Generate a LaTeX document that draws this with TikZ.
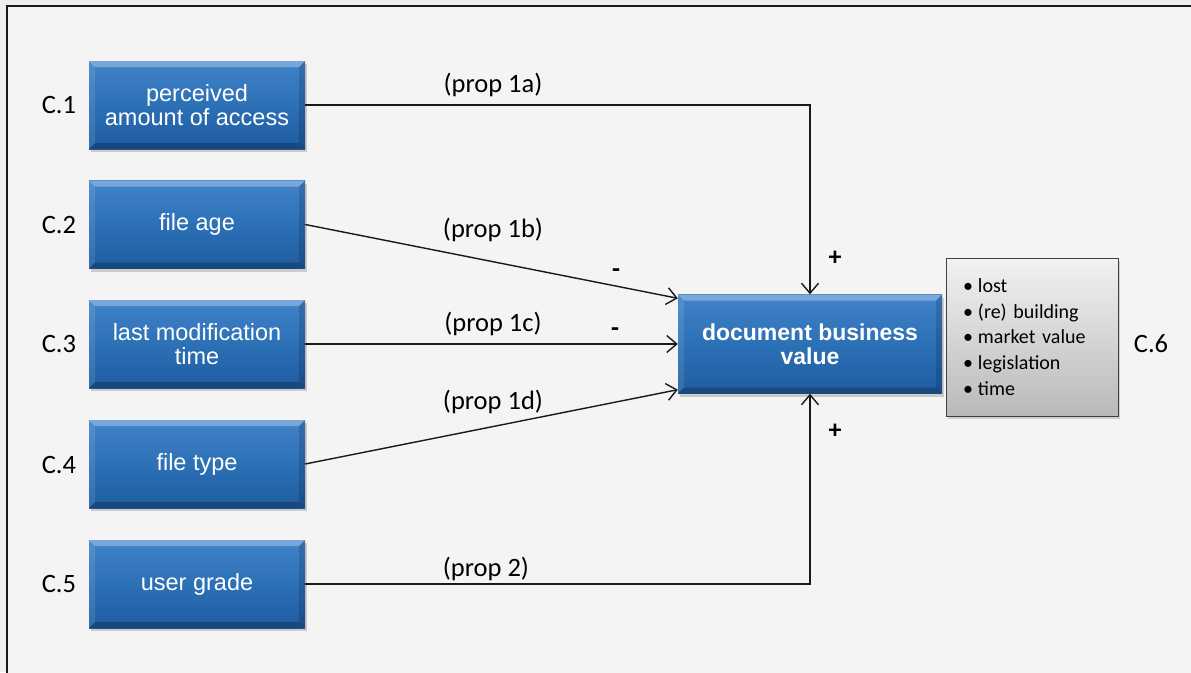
\documentclass[tikz,border=0pt]{standalone}
\usepackage{fontspec}
\setmainfont{Carlito}
\newfontfamily\arialfont{Liberation Sans}
\usetikzlibrary{arrows.meta,shadows}

\definecolor{pagebg}{HTML}{EFEFEF}
\definecolor{framebg}{HTML}{F4F4F4}
\definecolor{blueTop}{HTML}{4183C8}
\definecolor{blueMid}{HTML}{2C70B6}
\definecolor{blueBot}{HTML}{1E5CA0}
\definecolor{grayTop}{HTML}{F2F2F2}
\definecolor{grayBot}{HTML}{B9B9B9}

\tikzset{
  bluebox/.style={
    drop shadow={shadow xshift=2pt,shadow yshift=-3pt,opacity=0.35},
    top color=blueTop, bottom color=blueBot, middle color=blueMid,
    draw=none, inner sep=0pt, align=center, text=white,
    minimum width=216pt, minimum height=88pt,
    font=\arialfont\fontsize{23.5}{24}\selectfont,
    path picture={
      % bevelled rim: light top and left, dark bottom and right
      \fill[white,opacity=0.30]
        (path picture bounding box.north west) -- (path picture bounding box.north east)
        -- ([xshift=-6pt,yshift=-6pt]path picture bounding box.north east)
        -- ([xshift=6pt,yshift=-6pt]path picture bounding box.north west) -- cycle;
      \fill[white,opacity=0.10]
        (path picture bounding box.north west) -- (path picture bounding box.south west)
        -- ([xshift=6pt,yshift=6pt]path picture bounding box.south west)
        -- ([xshift=6pt,yshift=-6pt]path picture bounding box.north west) -- cycle;
      \fill[black,opacity=0.22]
        (path picture bounding box.south west) -- (path picture bounding box.south east)
        -- ([xshift=-6pt,yshift=6pt]path picture bounding box.south east)
        -- ([xshift=6pt,yshift=6pt]path picture bounding box.south west) -- cycle;
      \fill[black,opacity=0.15]
        (path picture bounding box.north east) -- (path picture bounding box.south east)
        -- ([xshift=-6pt,yshift=6pt]path picture bounding box.south east)
        -- ([xshift=-6pt,yshift=-6pt]path picture bounding box.north east) -- cycle;
    }
  },
  listbox/.style={
    drop shadow={shadow xshift=2pt,shadow yshift=-3pt,opacity=0.3},
    top color=grayTop, bottom color=grayBot, draw=black!75, line width=1pt,
    minimum width=172pt, minimum height=158pt, text width=138pt,
    inner sep=0pt, align=left,
    font=\fontsize{20}{25.7}\selectfont
  },
  clabel/.style={font=\fontsize{26.5}{30}\selectfont, inner sep=0pt},
  proplabel/.style={font=\fontsize{26.5}{30}\selectfont, inner sep=0pt},
  signlabel/.style={font=\bfseries\fontsize{26}{30}\selectfont, inner sep=0pt},
  link/.style={line width=1.4pt, draw=black!90},
  arrowlink/.style={link, -{Straight Barb[length=10pt,width=17pt,line width=1.4pt]}}
}

\begin{document}
\begin{tikzpicture}[x=1pt,y=-1pt]
  \useasboundingbox (0,0) rectangle (1191,672);
  \begin{scope}
    \clip (0,0) rectangle (1191,672);
    \fill[pagebg] (0,0) rectangle (1191,672);
    \fill[framebg] (7,6) rectangle (1200,690);
    \draw[line width=2.5pt, black!90] (1200,6) -- (7,6) -- (7,690);
  \end{scope}

  % factor boxes
  \node[bluebox] (c1) at (197,105) {perceived\\amount of access};
  \node[bluebox] (c2) at (197,224.5) {file age};
  \node[bluebox] (c3) at (197,344) {last modification\\time};
  \node[bluebox] (c4) at (197,464) {file type};
  \node[bluebox] (c5) at (197,584) {user grade};

  % central box
  \node[bluebox, minimum width=264pt, minimum height=99pt,
        font=\arialfont\bfseries\fontsize{23}{24}\selectfont] (dbv) at (810,344) {document business\\value};

  % list of value aspects
  \node[listbox] (aspects) at (1032,337) {%
    •\hspace{5pt}lost\\
    •\hspace{5pt}(re) building\\
    •\hspace{5pt}market value\\
    •\hspace{5pt}legislation\\
    •\hspace{5pt}time};

  % construct labels
  \node[clabel] (l1) at (59,105) {C.1};
  \node[clabel] (l2) at (59,225) {C.2};
  \node[clabel] (l3) at (59,344) {C.3};
  \node[clabel] (l4) at (59,465) {C.4};
  \node[clabel] (l5) at (59,584) {C.5};
  \node[clabel] (l6) at (1151,344) {C.6};

  % relations
  \draw[arrowlink] (c1.east) -| (dbv.north);
  \draw[arrowlink] (c2.east) -- ([yshift=-4pt]dbv.north west);
  \draw[arrowlink] (c3.east) -- (dbv.west);
  \draw[arrowlink] (c4.east) -- ([yshift=4pt]dbv.south west);
  \draw[arrowlink] (c5.east) -| (dbv.south);

  % relation labels
  \node[proplabel] (p1a) at (493,85) {(prop 1a)};
  \node[proplabel] (p1b) at (493,230) {(prop 1b)};
  \node[proplabel] (p1c) at (493,324) {(prop 1c)};
  \node[proplabel] (p1d) at (493,402) {(prop 1d)};
  \node[proplabel] (p2)  at (486,569) {(prop 2)};

  % signs
  \node[signlabel] (s1) at (616,273) {-};
  \node[signlabel] (s2) at (615,332) {-};
  \node[signlabel] (s3) at (835,258) {+};
  \node[signlabel] (s4) at (835,431) {+};
\end{tikzpicture}
\end{document}
